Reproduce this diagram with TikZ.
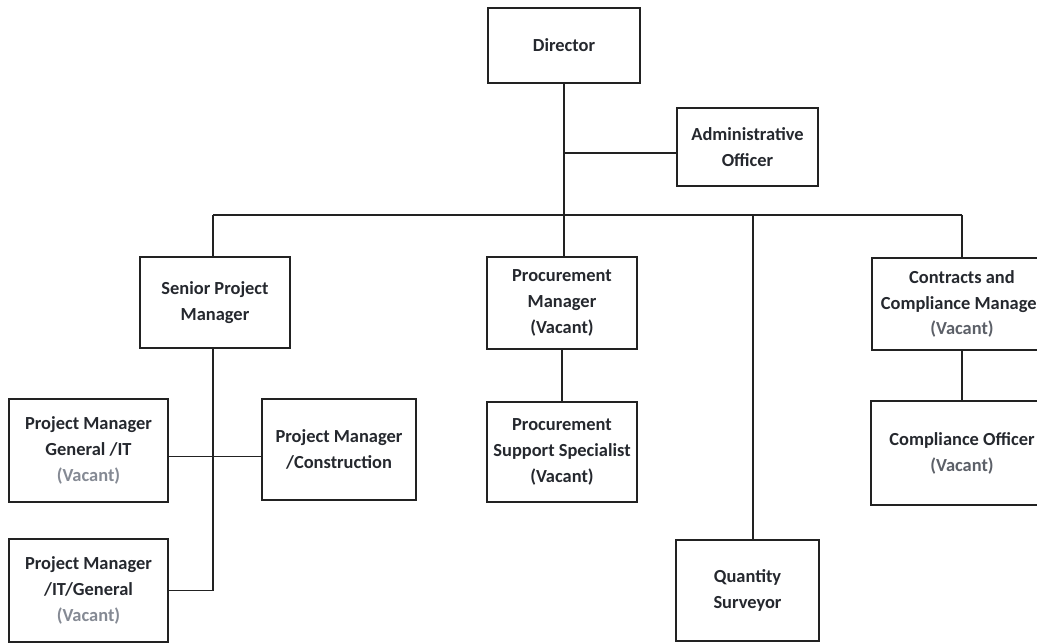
\documentclass[tikz,border=0pt]{standalone}
\usepackage{fontspec}
\setmainfont{Carlito}
\definecolor{linec}{HTML}{222222}
\definecolor{textc}{HTML}{25282E}
\definecolor{vaclight}{HTML}{858A94}
\definecolor{vacmid}{HTML}{5C6068}
\tikzset{
  orgbox/.style={draw=linec, line width=1.7bp, inner sep=0pt, align=center,
    font=\bfseries\fontsize{18.5}{26}\selectfont, text=textc},
  conn/.style={draw=linec, line width=1.7bp}
}
\begin{document}
\begin{tikzpicture}[x=1bp,y=-1bp]
\clip (0,0) rectangle (1037,643);
\fill[white] (0,0) rectangle (1037,643);
% nodes
\node[orgbox, minimum width=152bp, minimum height=75bp] (dir) at (564,45.5) {Director};
\node[orgbox, minimum width=141bp, minimum height=78bp] (adm) at (747.5,147) {Administrative\\Officer};
\node[orgbox, minimum width=150bp, minimum height=91bp] (spm) at (215,302.5) {Senior Project\\Manager};
\node[orgbox, minimum width=150bp, minimum height=92bp] (proc) at (562,303) {Procurement\\Manager\\(Vacant)};
\node[orgbox, minimum width=180bp, minimum height=92bp] (ccm) at (962,304) {Contracts and\\Compliance Manager\\\textcolor{vacmid}{(Vacant)}};
\node[orgbox, minimum width=159bp, minimum height=103bp] (pmg) at (88.5,450.5) {Project Manager\\General /IT\\\textcolor{vaclight}{(Vacant)}};
\node[orgbox, minimum width=154bp, minimum height=101bp] (pmc) at (339,449.5) {Project Manager\\/Construction};
\node[orgbox, minimum width=150bp, minimum height=100bp] (pss) at (562,452) {Procurement\\Support Specialist\\(Vacant)};
\node[orgbox, minimum width=182bp, minimum height=104bp] (co) at (962,453) {Compliance Officer\\\textcolor{vacmid}{(Vacant)}};
\node[orgbox, minimum width=159bp, minimum height=103bp] (pmit) at (88.5,590.5) {Project Manager\\/IT/General\\\textcolor{vaclight}{(Vacant)}};
\node[orgbox, minimum width=143bp, minimum height=101bp] (qs) at (747.5,590.5) {Quantity\\Surveyor};
% bus
\coordinate (busL) at (213,215);
\coordinate (busR) at (962,215);
\coordinate (busQ) at (753,215);
% connectors
\draw[conn] (dir.south) -- (dir.south |- proc.north);
\draw[conn] ([yshift=-6bp]dir.south |- adm.west) -- ([yshift=-6bp]adm.west);
\draw[conn] (busL) -- (busR);
\draw[conn] (busL) -- (busL |- spm.north);
\draw[conn] (busR) -- (ccm.north);
\draw[conn] (busQ) -- (busQ |- qs.north);
\draw[conn] (proc.south) -- (pss.north);
\draw[conn] (ccm.south) -- (co.north);
\draw[conn] (busL |- spm.south) -- (busL |- pmit.east) -- (pmit.east);
\draw[conn] ([yshift=-6bp]pmg.east) -- ([yshift=-6bp]pmg.east -| pmc.west);
\end{tikzpicture}
\end{document}
